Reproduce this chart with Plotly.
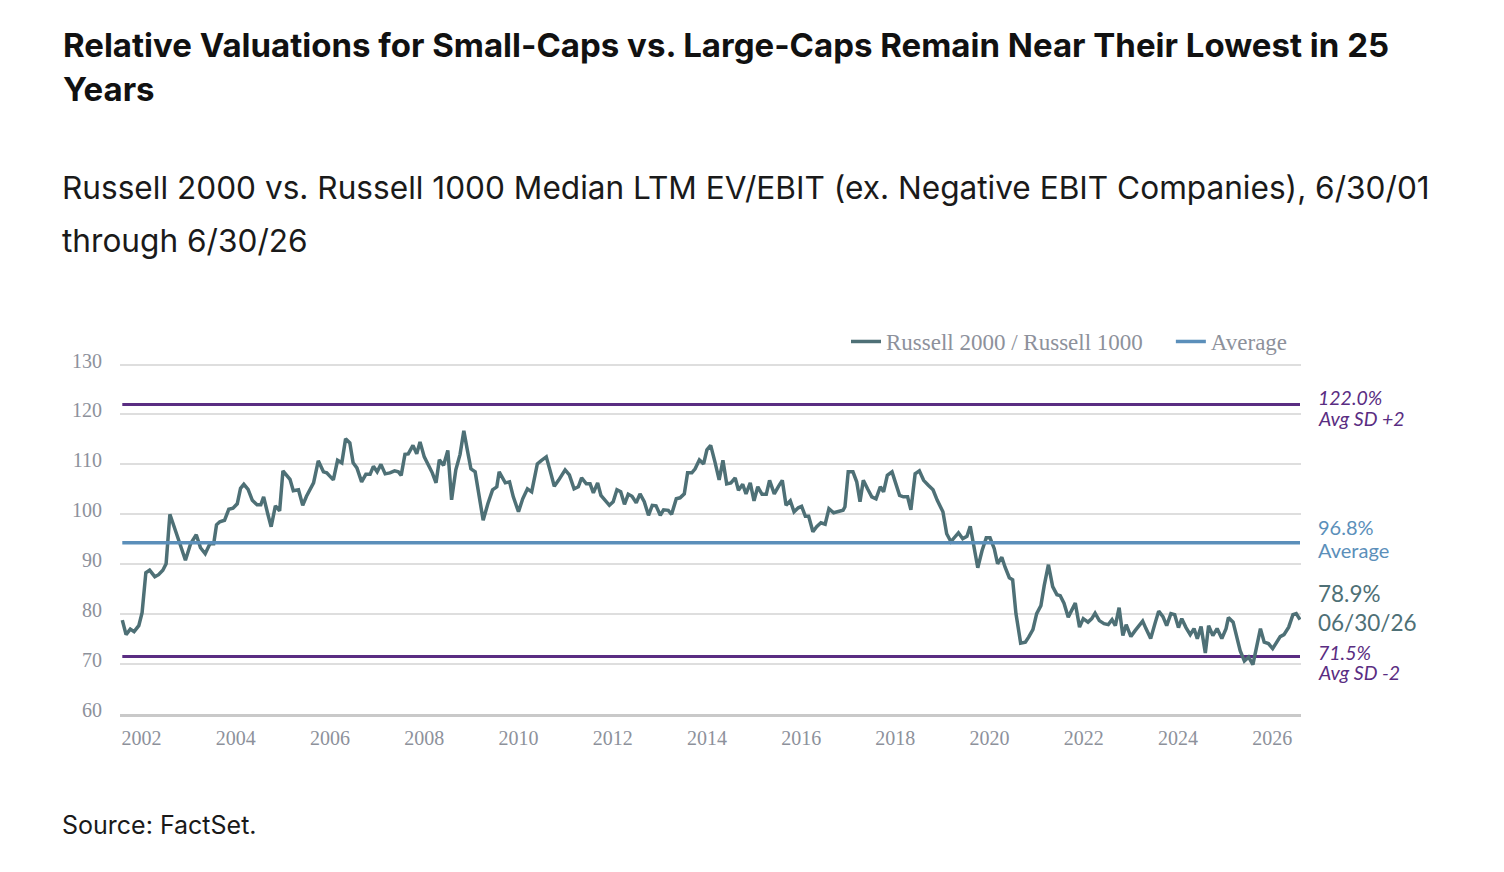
import plotly.graph_objects as go

# ---------------- data ----------------
years = [
    2001.50, 2001.58, 2001.67, 2001.75, 2001.85, 2001.92, 2002.00, 2002.08, 2002.19, 2002.27,
    2002.36, 2002.43, 2002.51, 2002.61, 2002.73, 2002.84, 2002.95, 2003.07, 2003.16, 2003.26,
    2003.36, 2003.44, 2003.50, 2003.57, 2003.67, 2003.76, 2003.85, 2003.94, 2004.01, 2004.08,
    2004.17, 2004.26, 2004.36, 2004.44, 2004.50, 2004.59, 2004.66, 2004.75, 2004.84, 2004.91,
    2005.06, 2005.13, 2005.24, 2005.33, 2005.41, 2005.56, 2005.66, 2005.77, 2005.84, 2005.89,
    2005.98, 2006.07, 2006.16, 2006.24, 2006.33, 2006.40, 2006.48, 2006.58, 2006.67, 2006.76,
    2006.83, 2006.91, 2006.99, 2007.08, 2007.18, 2007.28, 2007.36, 2007.42, 2007.50, 2007.57,
    2007.67, 2007.75, 2007.82, 2007.91, 2008.00, 2008.08, 2008.16, 2008.23, 2008.32, 2008.41,
    2008.49, 2008.58, 2008.67, 2008.75, 2008.82, 2008.90, 2008.99, 2009.08, 2009.16, 2009.26,
    2009.36, 2009.45, 2009.50, 2009.63, 2009.72, 2009.80, 2009.91, 2010.00, 2010.10, 2010.19,
    2010.31, 2010.40, 2010.50, 2010.58, 2010.67, 2010.76, 2010.90, 2010.99, 2011.09, 2011.18,
    2011.25, 2011.35, 2011.43, 2011.50, 2011.59, 2011.66, 2011.75, 2011.84, 2011.92, 2012.00,
    2012.08, 2012.16, 2012.24, 2012.32, 2012.41, 2012.49, 2012.58, 2012.67, 2012.75, 2012.83,
    2012.92, 2012.99, 2013.09, 2013.16, 2013.26, 2013.34, 2013.43, 2013.50, 2013.59, 2013.66,
    2013.75, 2013.84, 2013.91, 2013.99, 2014.08, 2014.17, 2014.25, 2014.33, 2014.42, 2014.51,
    2014.58, 2014.67, 2014.74, 2014.83, 2014.91, 2014.99, 2015.08, 2015.17, 2015.24, 2015.34,
    2015.43, 2015.51, 2015.59, 2015.68, 2015.76, 2015.85, 2015.92, 2016.00, 2016.07, 2016.16,
    2016.24, 2016.33, 2016.42, 2016.50, 2016.60, 2016.70, 2016.80, 2016.84, 2016.91, 2017.01,
    2017.09, 2017.16, 2017.23, 2017.32, 2017.41, 2017.50, 2017.59, 2017.66, 2017.74, 2017.84,
    2017.92, 2018.00, 2018.08, 2018.17, 2018.24, 2018.33, 2018.42, 2018.51, 2018.61, 2018.71,
    2018.80, 2018.92, 2019.00, 2019.09, 2019.16, 2019.25, 2019.34, 2019.43, 2019.50, 2019.58,
    2019.66, 2019.75, 2019.84, 2019.92, 2020.01, 2020.08, 2020.17, 2020.24, 2020.33, 2020.40,
    2020.47, 2020.57, 2020.67, 2020.74, 2020.83, 2020.91, 2021.00, 2021.07, 2021.16, 2021.25,
    2021.34, 2021.41, 2021.49, 2021.58, 2021.66, 2021.73, 2021.82, 2021.90, 2022.00, 2022.08,
    2022.15, 2022.24, 2022.34, 2022.43, 2022.51, 2022.58, 2022.66, 2022.74, 2022.81, 2022.91,
    2023.00, 2023.07, 2023.16, 2023.23, 2023.33, 2023.43, 2023.50, 2023.59, 2023.67, 2023.76,
    2023.84, 2023.92, 2023.99, 2024.08, 2024.17, 2024.25, 2024.32, 2024.40, 2024.49, 2024.56,
    2024.65, 2024.74, 2024.84, 2024.93, 2024.98, 2025.08, 2025.16, 2025.23, 2025.32, 2025.41,
    2025.50, 2025.57, 2025.66, 2025.74, 2025.83, 2025.92, 2026.01, 2026.08, 2026.16, 2026.26,
    2026.35, 2026.42, 2026.50,
]
ratio = [
    78.8, 75.9, 77.0, 76.5, 77.7, 80.3, 88.3, 88.8, 87.5, 87.9,
    88.8, 90.1, 100.0, 97.0, 93.9, 90.8, 94.1, 95.9, 93.3, 92.1,
    94.1, 94.1, 97.9, 98.5, 98.8, 101.0, 101.2, 102.1, 105.2, 106.0,
    105.0, 102.8, 101.9, 101.9, 103.5, 100.0, 97.5, 101.7, 100.7, 108.7,
    107.0, 104.7, 104.9, 101.8, 103.6, 106.3, 110.7, 108.5, 108.3, 107.8,
    106.9, 110.8, 110.3, 115.1, 114.3, 110.3, 109.3, 106.5, 108.0, 108.0,
    109.6, 108.5, 110.0, 108.1, 108.3, 108.7, 108.5, 107.8, 112.0, 112.1,
    113.8, 112.1, 114.5, 111.5, 109.8, 108.3, 106.3, 110.9, 109.8, 112.8,
    102.9, 108.9, 112.0, 116.7, 113.1, 109.1, 108.5, 102.8, 98.8, 102.1,
    104.9, 105.5, 108.5, 106.3, 106.5, 103.5, 100.5, 103.1, 105.1, 104.5,
    110.1, 110.8, 111.5, 108.8, 105.6, 106.8, 108.9, 107.9, 105.1, 105.5,
    107.3, 106.1, 106.1, 104.3, 106.3, 103.8, 102.9, 101.8, 102.5, 104.9,
    104.5, 102.0, 104.0, 103.6, 102.3, 104.1, 102.5, 99.8, 101.8, 101.7,
    99.8, 100.9, 100.8, 100.0, 103.1, 103.3, 104.1, 108.3, 108.3, 109.1,
    110.9, 110.1, 112.9, 113.8, 110.5, 106.9, 110.8, 106.1, 106.3, 107.3,
    104.8, 106.0, 104.1, 106.3, 102.7, 105.5, 104.0, 104.0, 106.8, 104.1,
    105.6, 106.8, 101.8, 102.7, 100.5, 101.3, 101.6, 99.6, 99.6, 96.5,
    97.5, 98.3, 98.0, 101.1, 100.3, 100.5, 100.8, 101.5, 108.5, 108.5,
    106.5, 102.5, 106.8, 105.1, 103.5, 103.1, 105.5, 104.5, 107.8, 108.5,
    106.1, 103.8, 103.5, 103.5, 100.9, 108.1, 108.7, 106.8, 105.8, 104.9,
    102.8, 100.5, 96.1, 94.5, 95.3, 96.3, 95.1, 95.6, 97.6, 93.1,
    89.3, 92.7, 95.3, 95.3, 93.1, 90.1, 91.4, 89.4, 87.3, 86.9,
    80.1, 74.2, 74.4, 75.4, 76.9, 80.1, 81.7, 85.7, 89.9, 85.5,
    83.9, 83.7, 82.2, 79.4, 81.1, 82.2, 77.4, 79.1, 78.4, 79.1,
    80.2, 78.7, 78.1, 77.9, 78.9, 77.7, 81.3, 75.7, 77.9, 75.5,
    76.7, 77.5, 78.6, 77.1, 75.1, 78.4, 80.6, 79.5, 77.7, 80.1,
    79.9, 77.3, 79.1, 77.3, 75.9, 77.1, 75.1, 77.5, 72.2, 77.7,
    75.7, 77.1, 75.1, 77.1, 79.3, 78.4, 75.1, 72.7, 70.6, 71.4,
    69.9, 73.1, 77.1, 74.4, 74.1, 73.1, 74.4, 75.5, 75.9, 77.4,
    79.9, 80.1, 78.9,
]
average_level = 94.3          # as drawn in the reference
sd_plus2 = 122.0
sd_minus2 = 71.5
label_plus2 = ["122.0%", "Avg SD +2"]
label_avg = ["96.8%", "Average"]
label_last = ["78.9%", "06/30/26"]
label_minus2 = ["71.5%", "Avg SD -2"]
tick_labels = ["2002", "2004", "2006", "2008", "2010", "2012", "2014",
               "2016", "2018", "2020", "2022", "2024", "2026"]
y_ticks = [60, 70, 80, 90, 100, 110, 120, 130]

title_lines = ["Relative Valuations for Small-Caps vs. Large-Caps Remain Near Their Lowest in 25",
               "Years"]
subtitle_lines = ["Russell 2000 vs. Russell 1000 Median LTM EV/EBIT (ex. Negative EBIT Companies), 6/30/01",
                  "through 6/30/26"]
source_text = "Source: FactSet."

# ---------------- style ----------------
W, H = 1504, 872
L, R, T, B = 120, 203, 361.5, 158
PW, PH = W - L - R, H - T - B
TEAL = "#4e7076"
BLUE = "#5b8fba"
PURPLE = "#5a2d82"
GRAY = "#8d919b"
SERIF = "Liberation Serif, Times New Roman, serif"
SANS = "Lato, Open Sans, sans-serif"
HEAD = "Inter, Roboto, sans-serif"


def px_x(p):
    return (p - L) / PW


def px_y(p):
    return (H - B - p) / PH


x0, x1 = years[0], years[-1]

fig = go.Figure()
fig.add_trace(go.Scatter(x=[x0, x1], y=[sd_plus2, sd_plus2], mode="lines",
                         line=dict(color=PURPLE, width=3), showlegend=False, hoverinfo="skip"))
fig.add_trace(go.Scatter(x=[x0, x1], y=[sd_minus2, sd_minus2], mode="lines",
                         line=dict(color=PURPLE, width=3), showlegend=False, hoverinfo="skip"))
fig.add_trace(go.Scatter(x=years, y=ratio, mode="lines",
                         name="Russell 2000 / Russell 1000" + "\u00a0" * 4,
                         line=dict(color=TEAL, width=3.5)))
fig.add_trace(go.Scatter(x=[x0, x1], y=[average_level, average_level], mode="lines",
                         name="Average", line=dict(color=BLUE, width=3.5)))

annotations = []
# heading texts
annotations.append(dict(text="<b>" + title_lines[0] + "</b>", x=px_x(61), y=px_y(44),
                        font=dict(family=HEAD, size=33, color="#111111")))
annotations.append(dict(text="<b>" + title_lines[1] + "</b>", x=px_x(61), y=px_y(88),
                        font=dict(family=HEAD, size=33, color="#111111")))
annotations.append(dict(text=subtitle_lines[0], x=px_x(60), y=px_y(187),
                        font=dict(family=HEAD, size=31.6, color="#1a1a1a")))
annotations.append(dict(text=subtitle_lines[1], x=px_x(60), y=px_y(240),
                        font=dict(family=HEAD, size=31.6, color="#1a1a1a")))
annotations.append(dict(text=source_text, x=px_x(60), y=px_y(825),
                        font=dict(family=HEAD, size=25, color="#1a1a1a")))
for a in annotations:
    a.update(xref="paper", yref="paper", xanchor="left", yanchor="middle", showarrow=False)

# right-side labels: (lines, level, colour, italic, size, vertical shift in px)
right = [
    ([label_plus2[0]], sd_plus2, PURPLE, True, 19.5, 7),
    ([label_plus2[1]], sd_plus2, PURPLE, True, 19.5, -14),
    ([label_avg[0]], average_level, BLUE, False, 20, 16),
    ([label_avg[1]], average_level, BLUE, False, 20, -7),
    (label_last, ratio[-1], TEAL, False, 22.5, 12),
    ([label_minus2[0]], sd_minus2, PURPLE, True, 19.5, 4),
    ([label_minus2[1]], sd_minus2, PURPLE, True, 19.5, -16),
]
for lines, yv, col, ital, size, shift in right:
    txt = "<br>".join(("<i>%s</i>" % s) if ital else s for s in lines)
    annotations.append(dict(text=txt, xref="paper", yref="y", x=px_x(1316), y=yv,
                            xanchor="left", yanchor="middle", yshift=shift, align="left",
                            showarrow=False, font=dict(family=SANS, size=size, color=col)))

fig.update_layout(
    width=W, height=H,
    margin=dict(l=L, r=R, t=T, b=B, pad=0),
    paper_bgcolor="white", plot_bgcolor="white",
    showlegend=True,
    legend=dict(orientation="h", xref="paper", yref="paper", x=1.0 - 8 / PW, xanchor="right",
                y=px_y(341), yanchor="middle", font=dict(family=SERIF, size=23, color=GRAY),
                itemwidth=30, bgcolor="rgba(0,0,0,0)", traceorder="normal"),
    annotations=annotations,
    xaxis=dict(range=[x0 - 2.3 / 47.1, x1 + 1.0 / 47.1],
               tickmode="array", tickvals=[int(t) - 0.09 for t in tick_labels], ticktext=tick_labels,
               showgrid=False, zeroline=False, showline=True, linecolor="#c9c9c9", linewidth=3,
               ticks="", tickfont=dict(family=SERIF, size=20, color=GRAY), ticklabelstandoff=4),
    yaxis=dict(range=[60, 130.5], tickmode="array", tickvals=y_ticks,
               showgrid=True, gridcolor="#dedede", gridwidth=1.5, zeroline=False,
               showline=False, ticks="", tickfont=dict(family=SERIF, size=20, color=GRAY),
               ticklabelstandoff=17, ticklabelshift=-4),
)

fig.write_html("out.html")
